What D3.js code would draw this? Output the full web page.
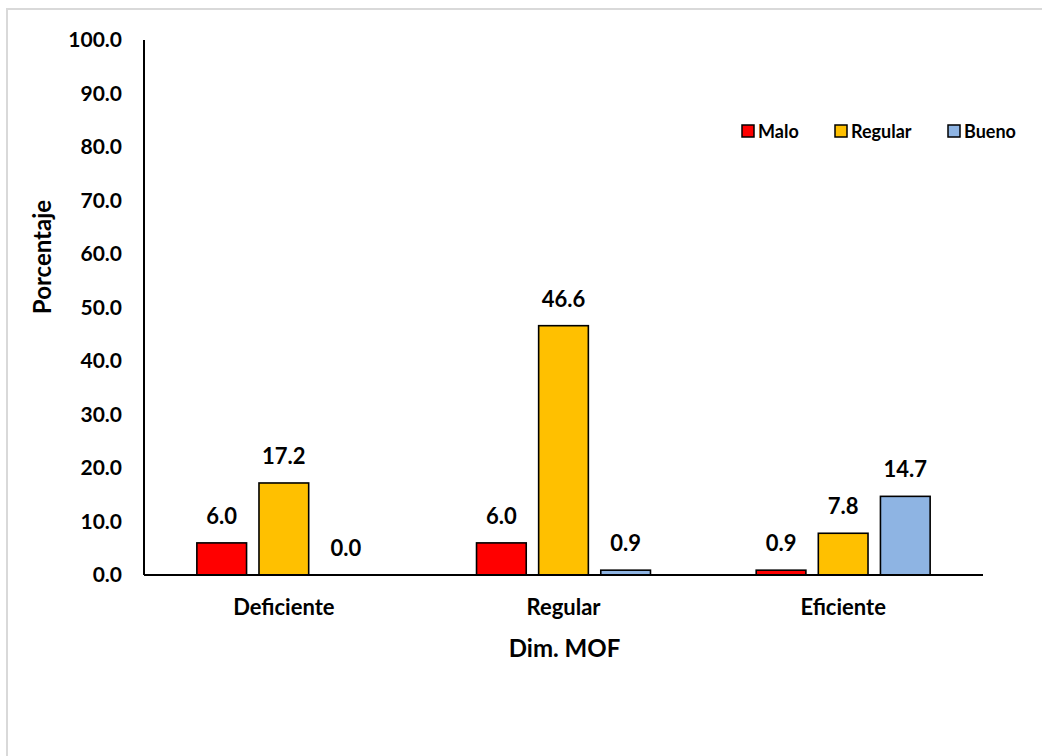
<!DOCTYPE html>
<html>
<head>
<meta charset="utf-8">
<script src="https://cdn.jsdelivr.net/npm/d3@7"></script>
<style>
  html, body { margin: 0; padding: 0; background: #fff; }
  svg { display: block; }
  text { font-family: Lato, "Open Sans", sans-serif; font-weight: bold; fill: #000; }
</style>
</head>
<body>
<svg id="chart" width="1042" height="756"></svg>
<script>
const categories = ["Deficiente", "Regular", "Eficiente"];
const series = ["Malo", "Regular", "Bueno"];
const malo = [6.0, 6.0, 0.9];
const regular = [17.2, 46.6, 7.8];
const bueno = [0.0, 0.9, 14.7];
const yTicks = [0, 10, 20, 30, 40, 50, 60, 70, 80, 90, 100];
const colors = ["#FF0000", "#FFC000", "#8EB4E3"];
const xTitle = "Dim. MOF";
const yTitle = "Porcentaje";

(function () {
const values = [malo, regular, bueno];
const svg = d3.select("#chart");

// outer frame
svg.append("rect").attr("x", 7).attr("y", 9).attr("width", 1100).attr("height", 800)
  .attr("fill", "none").attr("stroke", "#d9d9d9").attr("stroke-width", 2);

const mLeft = 144, mRight = 983, mTop = 40, mBottom = 575;

const y = d3.scaleLinear().domain([0, 100]).range([mBottom, mTop]);
const x0 = d3.scaleBand().domain(categories).range([mLeft, mRight])
  .paddingInner(0.378).paddingOuter(0.189);
const x1 = d3.scaleBand().domain(series).range([0, x0.bandwidth()]).paddingInner(0.2);
const color = d3.scaleOrdinal().domain(series).range(colors);

// y axis labels
const yAxis = d3.axisLeft(y).tickValues(yTicks).tickFormat(d3.format(".1f")).tickSize(0).tickPadding(22);
const gy = svg.append("g").attr("transform", `translate(${mLeft},0)`).call(yAxis);
gy.select(".domain").remove();
gy.selectAll("text").style("font-size", "21px").style("font-family", "Lato, sans-serif").style("font-weight", "bold").attr("fill", "#000");

// bars
const data = [];
categories.forEach((c, i) => series.forEach((s, j) => data.push({ c, s, v: values[j][i] })));

svg.append("g").selectAll("rect").data(data).join("rect")
  .attr("x", d => x0(d.c) + x1(d.s))
  .attr("y", d => y(d.v))
  .attr("width", x1.bandwidth())
  .attr("height", d => y(0) - y(d.v))
  .attr("fill", d => color(d.s))
  .attr("stroke", "#000")
  .attr("stroke-width", 1.6);

// value labels
svg.append("g").selectAll("text").data(data).join("text")
  .attr("x", d => x0(d.c) + x1(d.s) + x1.bandwidth() / 2)
  .attr("y", d => y(d.v) - 19)
  .attr("text-anchor", "middle")
  .style("font-size", "22px")
  .text(d => d3.format(".1f")(d.v));

// axis lines
svg.append("line").attr("x1", mLeft).attr("x2", mLeft).attr("y1", mTop).attr("y2", mBottom)
  .attr("stroke", "#000").attr("stroke-width", 2);
const xAxis = d3.axisBottom(x0).tickSize(0).tickPadding(0);
const gx = svg.append("g").attr("transform", `translate(0,${mBottom})`).call(xAxis);
gx.select(".domain").remove();
gx.selectAll("text").attr("dy", null).attr("y", 40)
  .style("font-size", "22px").style("font-family", "Lato, sans-serif").style("font-weight", "bold").attr("fill", "#000");
svg.append("line").attr("x1", mLeft).attr("x2", mRight).attr("y1", mBottom).attr("y2", mBottom)
  .attr("stroke", "#000").attr("stroke-width", 2);

// titles
svg.append("text").attr("x", (mLeft + mRight) / 2 + 1).attr("y", 657)
  .attr("text-anchor", "middle").style("font-size", "24px").text(xTitle);
svg.append("text").attr("transform", "translate(51,257) rotate(-90)")
  .attr("text-anchor", "middle").style("font-size", "24px").text(yTitle);

// legend
const legendX = [742, 835, 948];
const lg = svg.append("g").selectAll("g").data(series).join("g")
  .attr("transform", (d, i) => `translate(${legendX[i]},125)`);
lg.append("rect").attr("width", 12).attr("height", 12)
  .attr("fill", d => color(d)).attr("stroke", "#000").attr("stroke-width", 1.5);
lg.append("text").attr("x", 16).attr("y", 12.5).style("font-size", "18px").text(d => d);
})();
</script>
</body>
</html>
